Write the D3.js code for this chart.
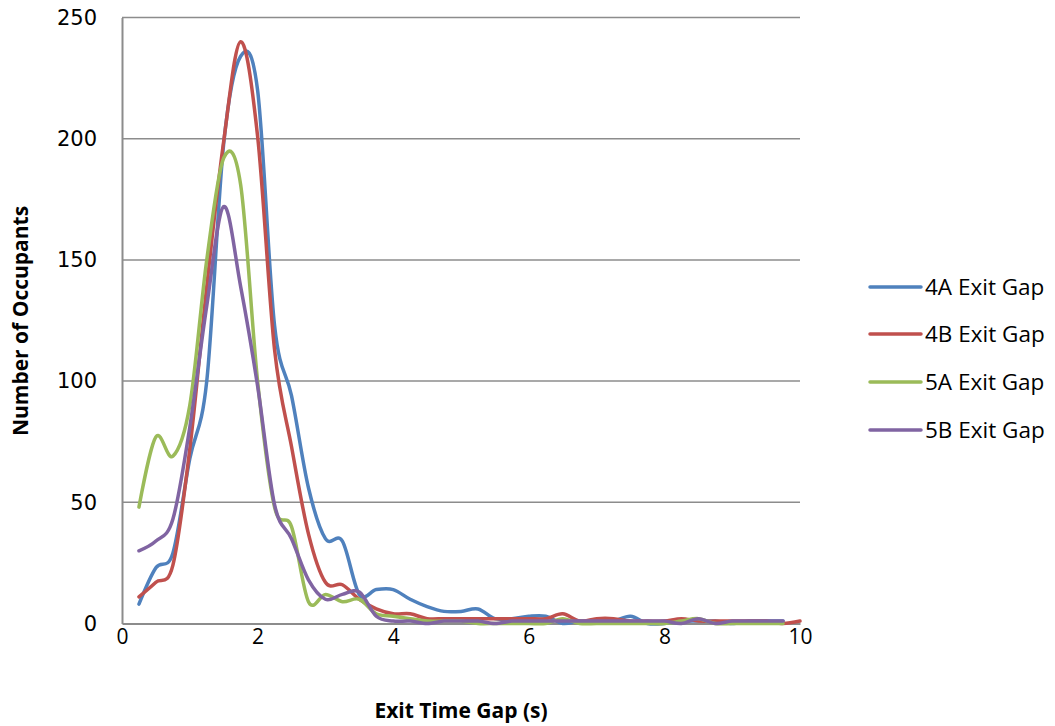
<!DOCTYPE html>
<html>
<head>
<meta charset="utf-8">
<script src="https://cdn.jsdelivr.net/npm/d3@7"></script>
<style>
  html, body { margin: 0; padding: 0; background: #ffffff; }
  svg { display: block; }
</style>
</head>
<body>
<svg id="chart" width="1055" height="726"></svg>
<script>
// Exit time gap (s) at which each count was taken
const gapTimes = [0.25, 0.5, 0.75, 1, 1.25, 1.5, 1.75, 2, 2.25, 2.5, 2.75, 3, 3.25, 3.5, 3.75, 4,
  4.25, 4.5, 4.75, 5, 5.25, 5.5, 5.75, 6, 6.25, 6.5, 6.75, 7, 7.25, 7.5, 7.75, 8,
  8.25, 8.5, 8.75, 9, 9.25, 9.5, 9.75, 10];

// Number of occupants per exit time gap, one list per run
const exit4A = [8, 23, 29, 68, 100, 198, 234, 220, 123, 94, 56, 35, 34, 12, 14, 14,
  10, 7, 5, 5, 6, 2, 2, 3, 3, 0, 1, 1, 1, 3, 0, 0, 1, 1, 1, 0, 1, 1, 1];
const exit4B = [11, 17, 24, 72, 139, 199, 240, 201, 113, 73, 37, 17, 16, 10, 6, 4,
  4, 2, 2, 2, 2, 2, 2, 2, 2, 4, 1, 2, 2, 1, 1, 1, 2, 1, 1, 1, 1, 1, 0, 1];
const exit5A = [48, 77, 69, 90, 150, 192, 181, 100, 48, 40, 9, 12, 9, 10, 4, 3,
  2, 1, 1, 1, 0, 0, 0, 0, 0, 2, 0, 0, 0, 0, 0, 0, 1, 2, 0, 0, 0, 0, 0];
const exit5B = [30, 34, 43, 81, 131, 172, 139, 98, 49, 35, 18, 10, 12, 13, 3, 1,
  1, 0, 1, 1, 1, 0, 1, 1, 1, 1, 1, 1, 1, 1, 1, 1, 0, 2, 0, 1, 1, 1, 1];

const seriesNames = ["4A Exit Gap", "4B Exit Gap", "5A Exit Gap", "5B Exit Gap"];
const seriesColors = ["#4F81BD", "#C0504D", "#9BBB59", "#8064A2"];
const seriesValues = [exit4A, exit4B, exit5A, exit5B];

const xTicks = [0, 2, 4, 6, 8, 10];
const yTicks = [0, 50, 100, 150, 200, 250];

const svg = d3.select("#chart");

const plot = { left: 122, right: 800, top: 17.5, bottom: 623.5 };

const x = d3.scaleLinear().domain([0, 10]).range([plot.left, plot.right]);
const y = d3.scaleLinear().domain([0, 250]).range([plot.bottom, plot.top]);

const gridColor = "#8c8c8c";

// horizontal gridlines
svg.append("g")
  .selectAll("line")
  .data(yTicks.filter(d => d > 0))
  .join("line")
  .attr("x1", plot.left).attr("x2", plot.right)
  .attr("y1", d => y(d)).attr("y2", d => y(d))
  .attr("stroke", gridColor).attr("stroke-width", 1.5);

// y axis (labels only, plus the vertical axis line)
const yAxis = d3.axisLeft(y).tickValues(yTicks).tickSize(0).tickPadding(25);
const gy = svg.append("g").attr("transform", `translate(${plot.left},0)`).call(yAxis);
gy.select(".domain").attr("stroke", gridColor).attr("stroke-width", 2);
gy.selectAll("text")
  .attr("font-family", "'DejaVu Sans', sans-serif")
  .attr("font-size", 21)
  .attr("fill", "#000");

// x axis
const xAxis = d3.axisBottom(x).tickValues(xTicks).tickSize(0).tickPadding(6);
const gx = svg.append("g").attr("transform", `translate(0,${plot.bottom})`).call(xAxis);
gx.select(".domain").attr("stroke", gridColor).attr("stroke-width", 2);
gx.selectAll("text")
  .attr("font-family", "'Open Sans', sans-serif")
  .attr("font-size", 21)
  .attr("fill", "#000");

// series lines, smoothed
const line = d3.line()
  .x((d, i) => x(gapTimes[i]))
  .y(d => y(d))
  .curve(d3.curveCardinal.tension(0));

svg.append("g")
  .selectAll("path")
  .data(seriesValues)
  .join("path")
  .attr("d", d => line(d))
  .attr("fill", "none")
  .attr("stroke", (d, i) => seriesColors[i])
  .attr("stroke-width", 3.5)
  .attr("stroke-linejoin", "round")
  .attr("stroke-linecap", "round");

// axis titles
svg.append("text")
  .attr("x", 461).attr("y", 718)
  .attr("text-anchor", "middle")
  .attr("font-family", "'Open Sans', sans-serif")
  .attr("font-weight", "bold")
  .attr("font-size", 21)
  .text("Exit Time Gap (s)");

svg.append("text")
  .attr("transform", "translate(28,321) rotate(-90)")
  .attr("text-anchor", "middle")
  .attr("font-family", "'Open Sans', sans-serif")
  .attr("font-weight", "bold")
  .attr("font-size", 21)
  .text("Number of Occupants");

// legend
const legendRows = [287, 334, 382, 430];
const legend = svg.append("g");
seriesNames.forEach((name, i) => {
  const g = legend.append("g").attr("transform", `translate(0,${legendRows[i]})`);
  g.append("line")
    .attr("x1", 870).attr("x2", 921)
    .attr("y1", 0).attr("y2", 0)
    .attr("stroke", seriesColors[i])
    .attr("stroke-width", 3.5)
    .attr("stroke-linecap", "round");
  g.append("text")
    .attr("x", 925).attr("y", 0)
    .attr("dy", "0.36em")
    .attr("font-family", "'Open Sans', sans-serif")
    .attr("font-size", 22.5)
    .attr("fill", "#000")
    .text(name);
});
</script>
</body>
</html>
